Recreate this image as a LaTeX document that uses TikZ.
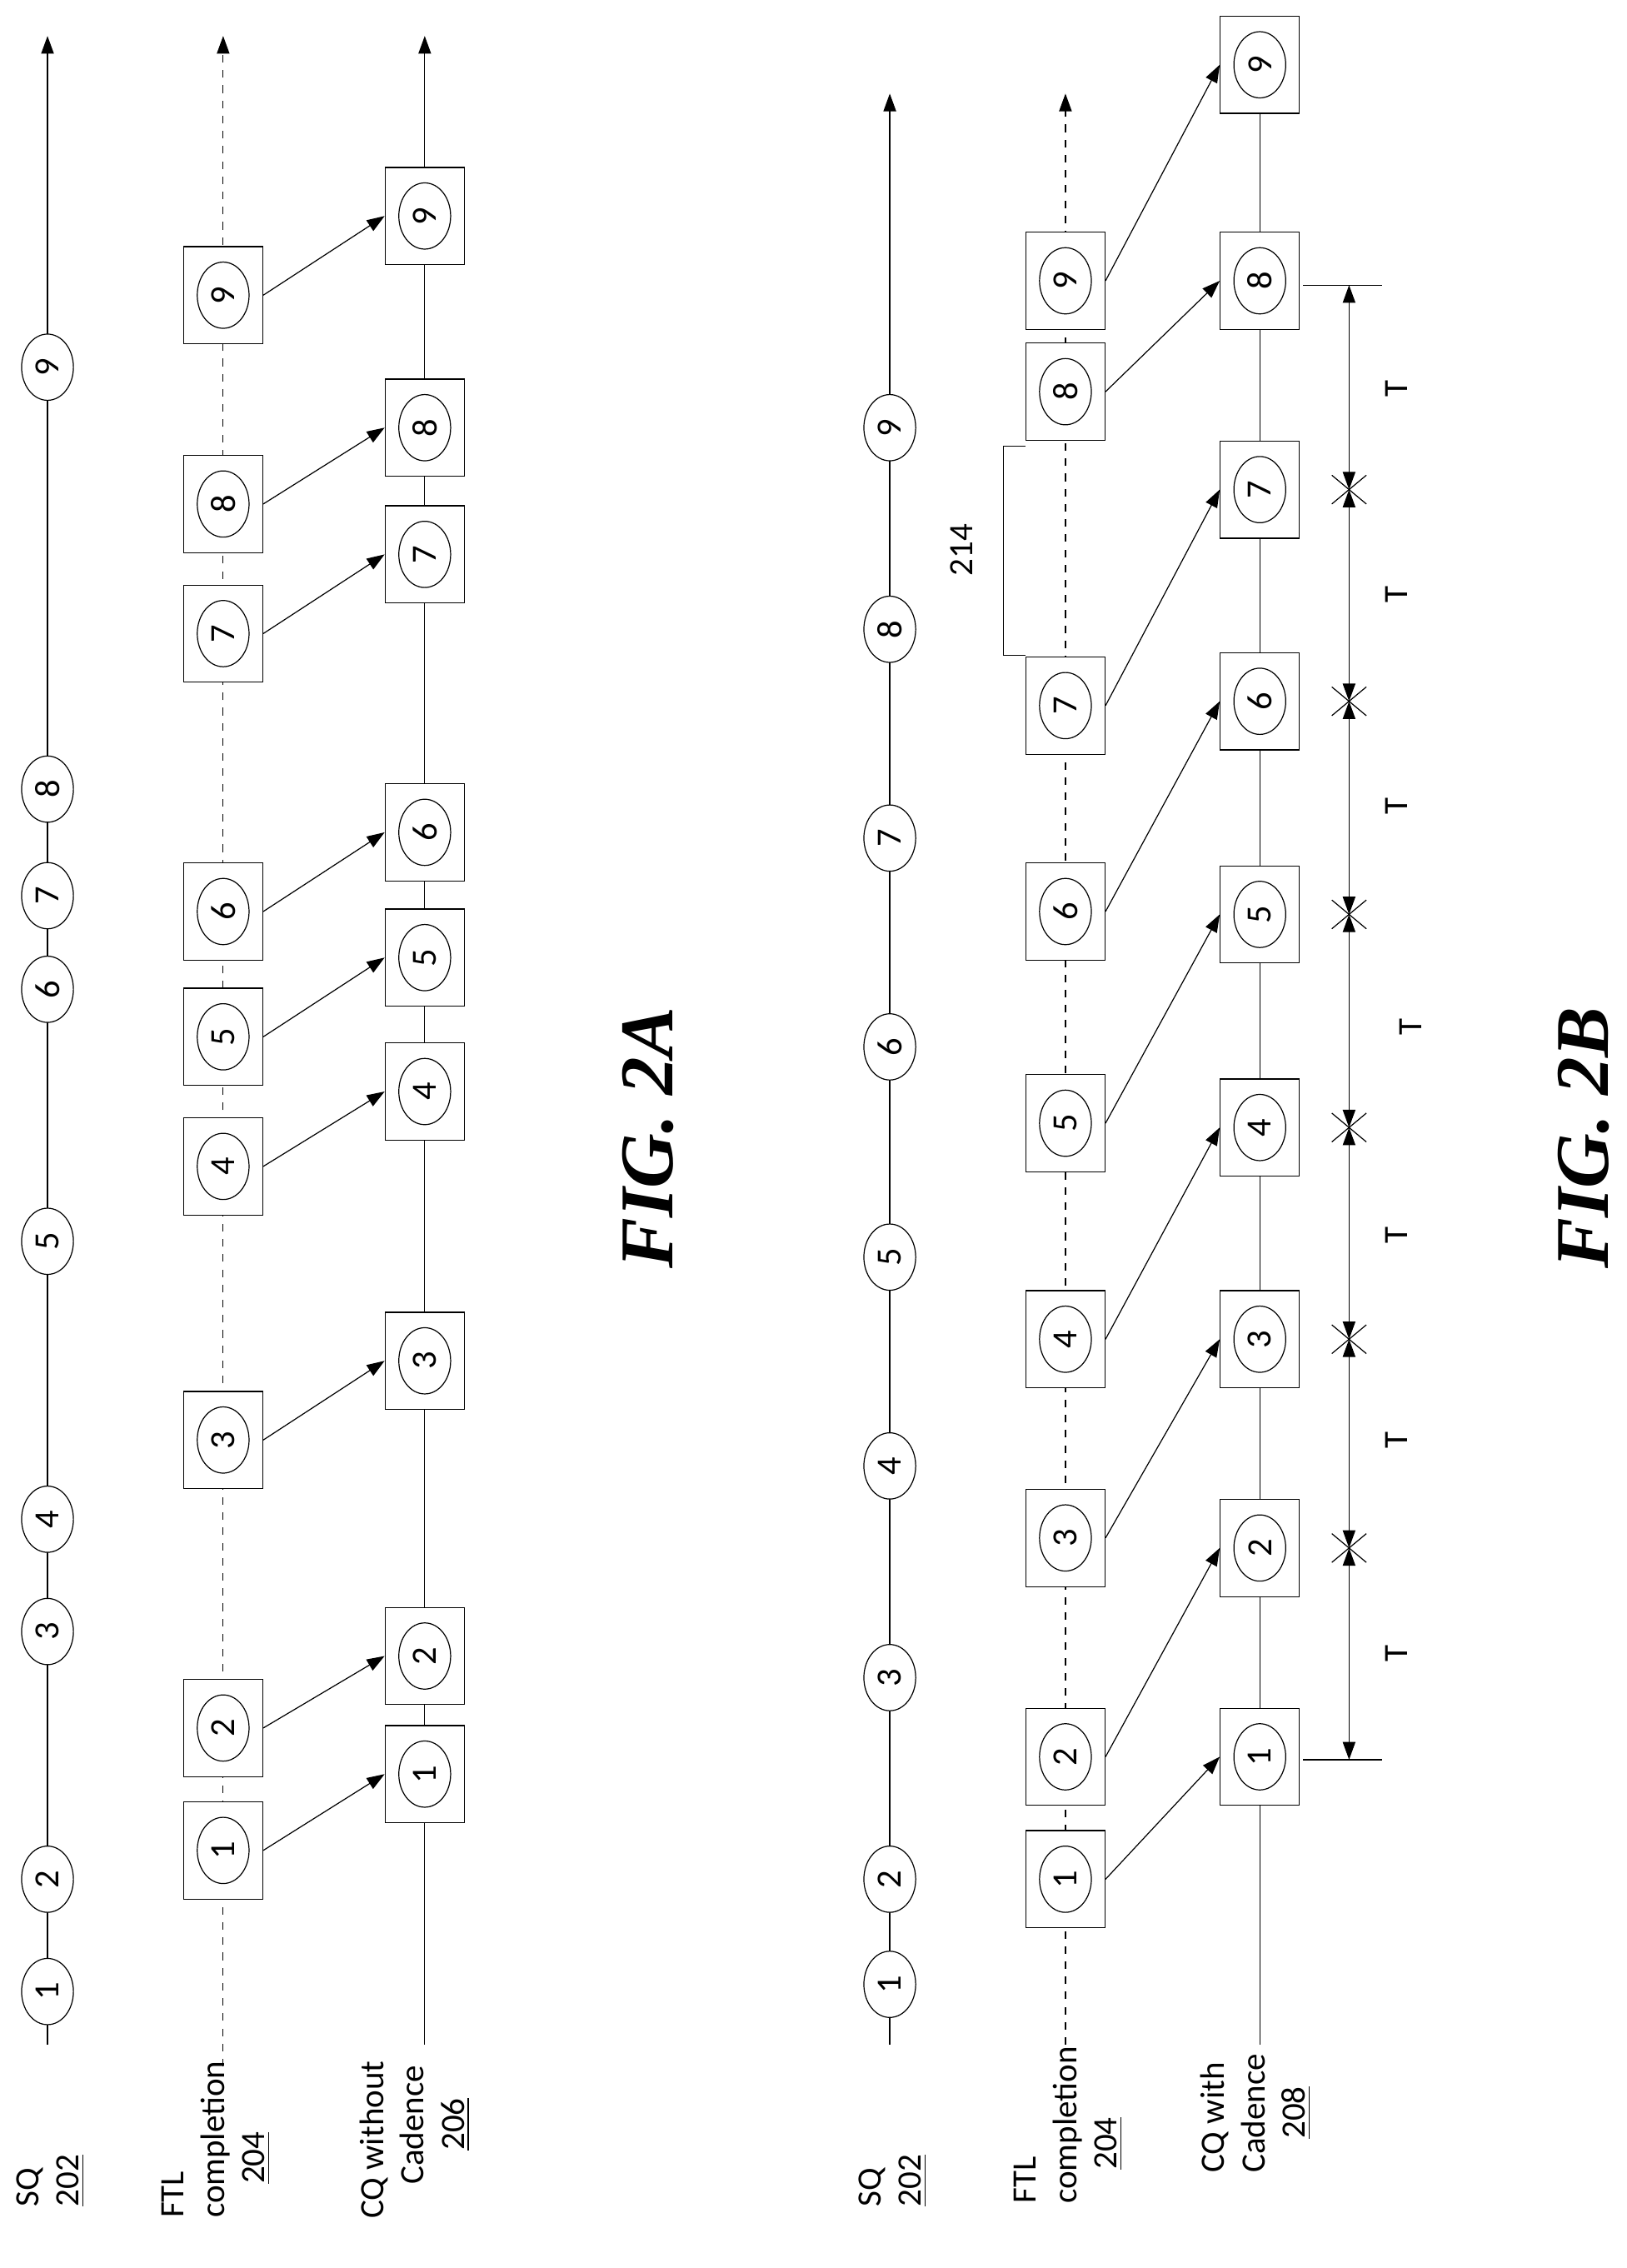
\documentclass[tikz,border=0pt]{standalone}
\usepackage{fontspec}
\setmainfont{Carlito}
\newfontfamily\figfont{Liberation Serif}
\usetikzlibrary{shapes.geometric}
\usetikzlibrary{arrows.meta}
\usetikzlibrary{calc}
\tikzset{
  qell/.style={draw, ellipse, rotate=90, inner sep=0pt, minimum width=0.92cm, minimum height=0.72cm, fill=white, font=\fontsize{14}{16}\selectfont},
  qbox/.style={draw, rectangle, minimum width=1.1cm, minimum height=1.35cm, fill=white},
  lbl/.style={rotate=90, align=left, anchor=east, font=\fontsize{13.5}{16}\selectfont},
  tlbl/.style={rotate=90, font=\fontsize{13.5}{16}\selectfont},
  flow/.style={-{Triangle[length=7pt,width=5pt]}},
}
\begin{document}
\begin{tikzpicture}[x=0.02cm, y=-0.02cm]
  \useasboundingbox (0,0) rectangle (1130,1575);

  % FIG. 2A
  \draw[flow] (33,1420) -- (33,25);
  \draw[flow, dashed] (155,1435) -- (155,25);
  \draw[flow] (295,1420) -- (295,25);
  \foreach \n/\y in {1/1383,2/1305,3/1133,4/1055,5/862,6/687,7/622,8/548,9/255}
    \node[qell] (sa\n) at (33,\y) {\n};
  \foreach \n/\y in {1/1285,2/1200,3/1000,4/810,5/720,6/633,7/440,8/350,9/205} {
    \node[qbox] (fa\n) at (155,\y) {};
    \node[qell] at (fa\n) {\n};
  }
  \foreach \n/\y in {1/1232,2/1150,3/945,4/758,5/665,6/578,7/385,8/297,9/150} {
    \node[qbox] (ca\n) at (295,\y) {};
    \node[qell] at (ca\n) {\n};
  }
  \foreach \n in {1,...,9}
    \draw[flow] (fa\n.east) -- (ca\n.west);
  \node[lbl] at (35,1490) {SQ\\\underline{202}};
  \node[lbl] at (150,1425) {FTL\\completion\\\quad\underline{204}};
  \node[lbl] at (288,1425) {CQ without\\\quad Cadence\\\qquad\underline{206}};
  \node[rotate=90, font=\figfont\bfseries\itshape\fontsize{30}{34}\selectfont] (figa) at (450,790) {FIG. 2A};

  % FIG. 2B
  \draw[flow] (618,1420) -- (618,65);
  \draw[flow, dashed] (740,1420) -- (740,65);
  \draw (875,1420) -- (875,45);
  \foreach \n/\y in {1/1378,2/1305,3/1165,4/1018,5/873,6/727,7/582,8/437,9/297}
    \node[qell] (sb\n) at (618,\y) {\n};
  \foreach \n/\y in {1/1305,2/1220,3/1068,4/930,5/780,6/633,7/490,8/272,9/195} {
    \node[qbox] (fb\n) at (740,\y) {};
    \node[qell] at (fb\n) {\n};
  }
  \foreach \n/\y in {1/1220,2/1075,3/930,4/783,5/635,6/487,7/340,8/195,9/45} {
    \node[qbox] (cb\n) at (875,\y) {};
    \node[qell] at (cb\n) {\n};
  }
  \foreach \n in {1,...,9}
    \draw[flow] (fb\n.east) -- (cb\n.west);

  % cadence period
  \coordinate (d0) at (937,1222);
  \coordinate (d1) at (937,1075);
  \coordinate (d2) at (937,930);
  \coordinate (d3) at (937,783);
  \coordinate (d4) at (937,635);
  \coordinate (d5) at (937,487);
  \coordinate (d6) at (937,340);
  \coordinate (d7) at (937,198);
  \draw (905,1222) -- (960,1222);
  \draw (905,198) -- (960,198);
  \foreach \a/\b in {0/1,1/2,2/3,3/4,4/5,5/6,6/7}
    \draw[{Triangle[length=7pt,width=5pt]}-{Triangle[length=7pt,width=5pt]}] (d\a) -- (d\b);
  \foreach \i in {1,...,6}
    \draw ($(d\i)+(-12,-10)$) -- ($(d\i)+(12,10)$) ($(d\i)+(-12,10)$) -- ($(d\i)+(12,-10)$);
  \foreach \y/\x in {1148/970,1000/970,858/970,713/980,560/970,413/970,270/970}
    \node[tlbl] at (\x,\y) {T};

  % gap 214
  \draw (712,455) -- (697,455) -- (697,310) -- (712,310);
  \node[tlbl] (gap) at (668,382) {214};

  \node[lbl] at (620,1490) {SQ\\\underline{202}};
  \node[lbl] at (742,1415) {FTL\\completion\\\quad\underline{204}};
  \node[lbl] at (872,1420) {CQ with\\Cadence\\\quad\underline{208}};
  \node[rotate=90, font=\figfont\bfseries\itshape\fontsize{30}{34}\selectfont] (figb) at (1100,790) {FIG. 2B};
\end{tikzpicture}
\end{document}
